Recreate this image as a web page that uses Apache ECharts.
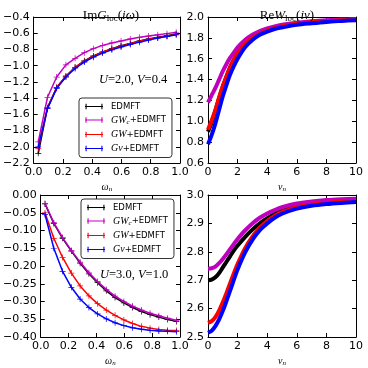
<!DOCTYPE html>
<html>
<head>
<meta charset="utf-8">
<script src="https://cdn.jsdelivr.net/npm/echarts@6/dist/echarts.min.js"></script>
<style>
    html, body { margin: 0; padding: 0; background: #fff; }
    #chart { width: 368px; height: 368px; }
</style>
</head>
<body>
<div id="chart"></div>
<script>
// fermionic Matsubara frequencies (left panels)
const wn = [0.031, 0.094, 0.157, 0.220, 0.283, 0.346, 0.408, 0.471, 0.534, 0.597, 0.660, 0.723, 0.785, 0.848, 0.911, 0.974];
// bosonic frequencies (right panels)
const nu = [0, 0.25, 0.5, 0.75, 1, 1.25, 1.5, 1.75, 2, 2.5, 3, 3.5, 4, 4.5, 5, 6, 7, 8, 9, 10];

const methods = ['EDMFT', 'GWc+EDMFT', 'GW+EDMFT', 'Gv+EDMFT'];
const colors = ['#000000', '#bf00bf', '#ff0000', '#0000ff'];

// U=2.0, V=0.4 : Im G_loc(iw)
const imG1Edmft = [-2.08, -1.52, -1.27, -1.13, -1.02, -0.94, -0.88, -0.83, -0.79, -0.755, -0.725, -0.695, -0.67, -0.65, -0.63, -0.61];
const imG1Gwc   = [-1.94, -1.39, -1.14, -0.99, -0.91, -0.84, -0.79, -0.75, -0.72, -0.695, -0.67, -0.65, -0.635, -0.62, -0.605, -0.588];
const imG1Gw    = [-2.02, -1.52, -1.27, -1.13, -1.02, -0.945, -0.885, -0.835, -0.795, -0.76, -0.73, -0.70, -0.675, -0.655, -0.635, -0.615];
const imG1Gv    = [-2.00, -1.53, -1.28, -1.14, -1.035, -0.955, -0.895, -0.845, -0.805, -0.77, -0.74, -0.71, -0.685, -0.66, -0.64, -0.62];

// U=2.0, V=0.4 : Re W_loc(iv)
const reW1Edmft = [0.90, 0.99, 1.10, 1.22, 1.33, 1.43, 1.52, 1.59, 1.65, 1.74, 1.80, 1.84, 1.87, 1.895, 1.91, 1.935, 1.95, 1.96, 1.968, 1.975];
const reW1Gwc   = [1.18, 1.25, 1.32, 1.40, 1.48, 1.55, 1.61, 1.66, 1.71, 1.78, 1.83, 1.865, 1.89, 1.91, 1.925, 1.945, 1.96, 1.97, 1.975, 1.98];
const reW1Gw    = [0.92, 1.01, 1.11, 1.23, 1.34, 1.43, 1.52, 1.59, 1.65, 1.74, 1.80, 1.84, 1.87, 1.895, 1.91, 1.935, 1.95, 1.96, 1.968, 1.975];
const reW1Gv    = [0.78, 0.87, 0.98, 1.11, 1.24, 1.35, 1.45, 1.53, 1.60, 1.71, 1.78, 1.83, 1.86, 1.885, 1.90, 1.925, 1.94, 1.953, 1.962, 1.97];

// U=3.0, V=1.0 : Im G_loc(iw)
const imG2Edmft = [-0.025, -0.080, -0.122, -0.158, -0.192, -0.222, -0.247, -0.270, -0.289, -0.304, -0.317, -0.328, -0.337, -0.344, -0.351, -0.356];
const imG2Gwc   = [-0.024, -0.078, -0.120, -0.156, -0.189, -0.219, -0.244, -0.266, -0.285, -0.300, -0.313, -0.324, -0.333, -0.340, -0.347, -0.353];
const imG2Gw    = [-0.050, -0.122, -0.176, -0.220, -0.256, -0.284, -0.306, -0.324, -0.339, -0.352, -0.362, -0.370, -0.375, -0.379, -0.381, -0.382];
const imG2Gv    = [-0.055, -0.150, -0.215, -0.260, -0.293, -0.317, -0.335, -0.349, -0.360, -0.368, -0.374, -0.378, -0.381, -0.383, -0.384, -0.385];

// U=3.0, V=1.0 : Re W_loc(iv)
const reW2Edmft = [2.700, 2.702, 2.710, 2.725, 2.745, 2.765, 2.785, 2.805, 2.822, 2.852, 2.878, 2.900, 2.918, 2.933, 2.945, 2.960, 2.968, 2.974, 2.977, 2.980];
const reW2Gwc   = [2.740, 2.742, 2.748, 2.760, 2.775, 2.792, 2.810, 2.828, 2.845, 2.875, 2.900, 2.920, 2.935, 2.947, 2.957, 2.970, 2.977, 2.982, 2.985, 2.987];
const reW2Gw    = [2.550, 2.556, 2.570, 2.593, 2.622, 2.655, 2.690, 2.725, 2.757, 2.812, 2.853, 2.885, 2.908, 2.926, 2.940, 2.957, 2.966, 2.972, 2.976, 2.978];
const reW2Gv    = [2.515, 2.522, 2.538, 2.562, 2.592, 2.627, 2.664, 2.702, 2.738, 2.797, 2.842, 2.876, 2.900, 2.920, 2.934, 2.952, 2.962, 2.968, 2.972, 2.975];

const SANS = 'DejaVu Sans';
const SERIF = 'Liberation Serif';

const grids = [
    { left: 32, top: 17, width: 148, height: 146 },
    { left: 208, top: 17, width: 148, height: 146 },
    { left: 32, top: 195, width: 148, height: 145 },
    { left: 208, top: 195, width: 148, height: 145 }
];

const fmt = (d) => (v) => {
    if (Math.abs(v) < 1e-9) v = 0;
    return v.toFixed(d).replace('-', '\u2212');
};

const nameRich = {
    i: { fontFamily: SERIF, fontStyle: 'italic', fontWeight: 'normal', fontSize: 10, color: '#000' },
    s: { fontFamily: SERIF, fontStyle: 'italic', fontWeight: 'normal', fontSize: 7, color: '#000', padding: [5, 0, 0, 0] }
};

const xAxes = [];
const yAxes = [];

function addAxes(gi, x, y) {
    const tick = { show: true, inside: true, length: 4, lineStyle: { color: '#000' } };
    const line = { show: true, onZero: false, lineStyle: { color: '#000', width: 1 } };
    xAxes.push({
        type: 'value', gridIndex: gi, position: 'bottom', min: x.min, max: x.max, interval: x.interval,
        axisLine: line, axisTick: tick, splitLine: { show: false },
        axisLabel: { formatter: fmt(x.digits), fontFamily: SANS, fontSize: 11, color: '#000', margin: 4 },
        name: x.name, nameLocation: 'middle', nameGap: 18,
        nameTextStyle: { rich: nameRich }
    });
    xAxes.push({
        type: 'value', gridIndex: gi, position: 'top', min: x.min, max: x.max, interval: x.interval,
        axisLine: line, axisTick: tick, splitLine: { show: false }, axisLabel: { show: false }
    });
    yAxes.push({
        type: 'value', gridIndex: gi, position: 'left', min: y.min, max: y.max, interval: y.interval,
        axisLine: line, axisTick: tick, splitLine: { show: false },
        axisLabel: { formatter: fmt(y.digits), fontFamily: SANS, fontSize: 11, color: '#000', margin: 4 }
    });
    yAxes.push({
        type: 'value', gridIndex: gi, position: 'right', min: y.min, max: y.max, interval: y.interval,
        axisLine: line, axisTick: tick, splitLine: { show: false }, axisLabel: { show: false }
    });
}

const wName = '{i|ω}{s|n}';
const vName = '{i|ν}{s|n}';
addAxes(0, { min: 0, max: 1, interval: 0.2, digits: 1, name: wName }, { min: -2.2, max: -0.4, interval: 0.2, digits: 1 });
addAxes(1, { min: 0, max: 10, interval: 2, digits: 0, name: vName }, { min: 0.6, max: 2.0, interval: 0.2, digits: 1 });
addAxes(2, { min: 0, max: 1, interval: 0.2, digits: 1, name: wName }, { min: -0.4, max: 0, interval: 0.05, digits: 2 });
addAxes(3, { min: 0, max: 10, interval: 2, digits: 0, name: vName }, { min: 2.5, max: 3.0, interval: 0.1, digits: 1 });

const plusSymbol = 'path://M0,4.4h10v1.2h-10z M4.4,0h1.2v10h-1.2z';

function markedLine(gi, k, xs, ys) {
    return {
        type: 'line', name: methods[k], xAxisIndex: gi * 2, yAxisIndex: gi * 2,
        data: xs.map((x, i) => [x, ys[i]]),
        symbol: plusSymbol, symbolSize: 6, showSymbol: true,
        itemStyle: { color: colors[k] },
        lineStyle: { color: colors[k], width: 1.5 },
        z: 2 + k
    };
}

function bandLine(gi, k, xs, ys) {
    return {
        type: 'line', name: methods[k], xAxisIndex: gi * 2, yAxisIndex: gi * 2,
        data: xs.map((x, i) => [x, ys[i]]),
        smooth: 0.3, showSymbol: false,
        itemStyle: { color: colors[k] },
        lineStyle: { color: colors[k], width: 4 },
        z: 2 + k
    };
}

const series = [
    markedLine(0, 0, wn, imG1Edmft),
    markedLine(0, 1, wn, imG1Gwc),
    markedLine(0, 2, wn, imG1Gw),
    markedLine(0, 3, wn, imG1Gv),
    bandLine(1, 0, nu, reW1Edmft),
    bandLine(1, 2, nu, reW1Gw),
    bandLine(1, 3, nu, reW1Gv),
    bandLine(1, 1, nu, reW1Gwc),
    markedLine(2, 0, wn, imG2Edmft),
    markedLine(2, 1, wn, imG2Gwc),
    markedLine(2, 2, wn, imG2Gw),
    markedLine(2, 3, wn, imG2Gv),
    bandLine(3, 0, nu, reW2Edmft),
    bandLine(3, 1, nu, reW2Gwc),
    bandLine(3, 2, nu, reW2Gw),
    bandLine(3, 3, nu, reW2Gv)
];

const legendLabels = {
    'EDMFT': 'EDMFT',
    'GWc+EDMFT': '{i|GW}{s|c}+EDMFT',
    'GW+EDMFT': '{i|GW}+EDMFT',
    'Gv+EDMFT': '{i|Gv}+EDMFT'
};

function makeLegend(left, top) {
    return {
        left: left, top: top, orient: 'vertical',
        data: methods, selectedMode: false,
        icon: 'path://M0,3.4h20v1.2h-20z M0.6,1h1.2v6h-1.2z M18.2,1h1.2v6h-1.2z',
        itemWidth: 18, itemHeight: 7, itemGap: 4,
        padding: [4, 6, 4, 6],
        borderColor: '#333', borderWidth: 1, borderRadius: 3,
        backgroundColor: '#fff',
        formatter: (name) => legendLabels[name],
        textStyle: {
            fontFamily: SANS, fontSize: 8.5, color: '#000', padding: [0, 0, 0, 3],
            rich: {
                i: { fontFamily: SERIF, fontStyle: 'italic', fontSize: 10, color: '#000' },
                s: { fontFamily: SERIF, fontStyle: 'italic', fontSize: 7, color: '#000', padding: [4, 0, 0, 0] }
            }
        }
    };
}

const titleRich = {
    r: { fontFamily: SERIF, fontWeight: 'normal', fontSize: 13, color: '#000' },
    i: { fontFamily: SERIF, fontStyle: 'italic', fontWeight: 'normal', fontSize: 13, color: '#000' },
    s: { fontFamily: SERIF, fontWeight: 'normal', fontSize: 9, color: '#000', padding: [6, 0, 0, 0] }
};

const annRich = {
    r: { fontFamily: SERIF, fontSize: 12.5, fill: '#000' },
    i: { fontFamily: SERIF, fontStyle: 'italic', fontSize: 12.5, fill: '#000' }
};

const option = {
    animation: false,
    backgroundColor: '#fff',
    title: [
        { text: '{r|Im}{i|G}{s|loc}{r|(}{i|iω}{r|)}', left: 106, top: 3, textAlign: 'center', textStyle: { fontWeight: 'normal', rich: titleRich } },
        { text: '{r|Re}{i|W}{s|loc}{r|(}{i|iν}{r|)}', left: 282, top: 3, textAlign: 'center', textStyle: { fontWeight: 'normal', rich: titleRich } }
    ],
    grid: grids,
    xAxis: xAxes,
    yAxis: yAxes,
    legend: [makeLegend(79, 98), makeLegend(81, 199)],
    graphic: [
        { type: 'text', left: 99, top: 73, style: { text: '{i|U}{r|=2.0, }{i|V}{r|=0.4}', rich: annRich } },
        { type: 'text', left: 100, top: 268, style: { text: '{i|U}{r|=3.0, }{i|V}{r|=1.0}', rich: annRich } }
    ],
    series: series
};

const chart = echarts.init(document.getElementById('chart'));
chart.setOption(option);
</script>
</body>
</html>
